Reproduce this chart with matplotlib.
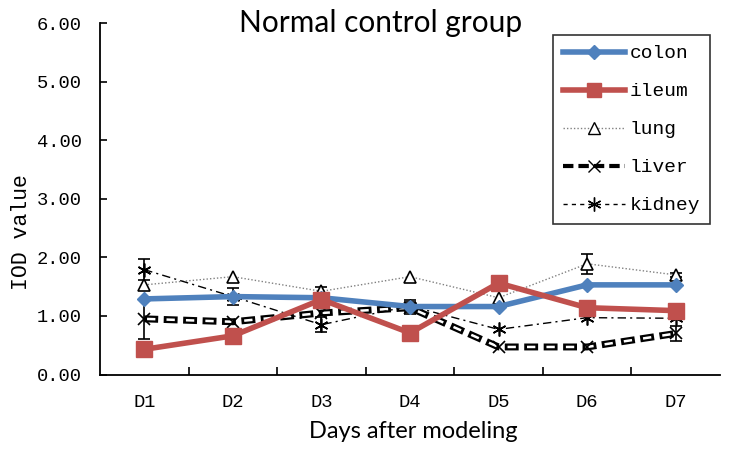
import matplotlib
matplotlib.use("Agg")
import matplotlib.pyplot as plt
import numpy as np
from matplotlib.lines import Line2D

days = ["D1", "D2", "D3", "D4", "D5", "D6", "D7"]
colon = [1.29, 1.33, 1.31, 1.16, 1.16, 1.53, 1.53]
ileum = [0.43, 0.66, 1.28, 0.71, 1.56, 1.14, 1.09]
lung = [1.53, 1.67, 1.42, 1.67, 1.31, 1.89, 1.70]
liver = [0.95, 0.90, 1.05, 1.14, 0.47, 0.47, 0.70]
kidney = [1.79, 1.33, 0.85, 1.17, 0.77, 0.97, 0.96]
lung_err = [0.00, 0.00, 0.08, 0.00, 0.00, 0.17, 0.04]
liver_err = [0.34, 0.00, 0.00, 0.10, 0.00, 0.00, 0.12]
kidney_err = [0.18, 0.14, 0.13, 0.10, 0.00, 0.00, 0.00]
yticks = [0, 1, 2, 3, 4, 5, 6]

mono = "Liberation Mono"
sans = "Lato"

fig = plt.figure(figsize=(7.34, 4.49), dpi=100)
ax = fig.add_axes([100/734, 1-374.5/449, 620/734, (374.5-23)/449])
x = np.arange(len(days))

ast6 = (6, 2, 0)

# error bars
for vals, errs in [(lung, lung_err), (liver, liver_err), (kidney, kidney_err)]:
    e = np.array(errs)
    m = e > 0
    ax.errorbar(x[m], np.array(vals)[m], yerr=e[m], fmt="none", ecolor="black",
                elinewidth=1.2, capsize=4, capthick=1.2, zorder=2)

ax.plot(x, lung, color="#808080", lw=1, ls=(0, (1, 1.5)), marker="^", ms=8,
        mfc="white", mec="black", mew=1.2, zorder=3)
# liver: hollow-looking thick dashes
ax.plot(x, liver, color="black", lw=5, ls=(0, (2.0, 0.8)), dash_capstyle="butt",
        zorder=3)
wl = 1.8
ax.plot(x, liver, color="white", lw=wl, ls=(12/wl, (6/wl, 8/wl)),
        dash_capstyle="butt", zorder=3)
ax.plot(x, liver, ls="none", marker="x", ms=8, mec="black", mew=1.2, zorder=4)
ax.plot(x, kidney, color="black", lw=1, ls=(0, (6, 3, 1.5, 3)), marker=ast6, ms=10,
        mec="black", mew=1.2, zorder=3)
ax.plot(x, colon, color="#4F81BD", lw=4, marker="D", ms=7, mfc="#4F81BD",
        mec="#4F81BD", zorder=5)
ax.plot(x, ileum, color="#C0504D", lw=4, marker="s", ms=11, mfc="#C0504D",
        mec="#C0504D", zorder=6)

ax.set_xlim(-0.5, 6.5)
ax.set_ylim(0, 6)
ax.set_xticks(x)
ax.set_xticklabels(days, fontfamily=mono, fontsize=13.5)
ax.set_xticks(np.arange(0.5, 6.5, 1), minor=True)
ax.tick_params(axis="x", which="major", length=0, pad=14)
ax.tick_params(axis="x", which="minor", direction="in", length=6, width=1.2)
ax.set_yticks(yticks)
ax.set_yticklabels([f"{v:.2f}" for v in yticks], fontfamily=mono, fontsize=13.5)
ax.tick_params(axis="y", direction="in", length=5, width=1.2, pad=13)
for s in ["top", "right"]:
    ax.spines[s].set_visible(False)
for s in ["left", "bottom"]:
    ax.spines[s].set_linewidth(1.3)

fig.text(22/734, 1-232/449, "IOD value", fontfamily=mono, fontsize=15.5,
         rotation=90, ha="center", va="center")
fig.text(413/734, 1-432/449, "Days after modeling", fontfamily=sans, fontsize=17,
         ha="center", va="center")
fig.text(381/734, 1-23/449, "Normal control group", fontfamily=sans, fontsize=21.5,
         ha="center", va="center")

handles = [
    Line2D([], [], color="#4F81BD", lw=4, marker="D", ms=7),
    Line2D([], [], color="#C0504D", lw=4, marker="s", ms=10),
    Line2D([], [], color="#808080", lw=1, ls=(0, (1, 1.5)), marker="^", ms=8,
           mfc="white", mec="black"),
    Line2D([], [], color="black", lw=3, ls=(0, (2.5, 1.2)), marker="x", ms=8, mec="black"),
    Line2D([], [], color="black", lw=1, ls=(0, (3, 3)), marker=ast6, ms=10, mec="black"),
]
labels = ["colon", "ileum", "lung", "liver", "kidney"]
leg = ax.legend(handles, labels, loc="upper right",
                bbox_to_anchor=((710-100)/620, (374.5-35)/351.5),
                borderaxespad=0, prop={"family": mono, "size": 14},
                handlelength=3.2, handletextpad=0.25, labelspacing=1.05,
                borderpad=0.5, fancybox=False, frameon=True)
leg.get_frame().set_edgecolor("black")
leg.get_frame().set_linewidth(1.2)

fig.savefig("out.png", dpi=100)
